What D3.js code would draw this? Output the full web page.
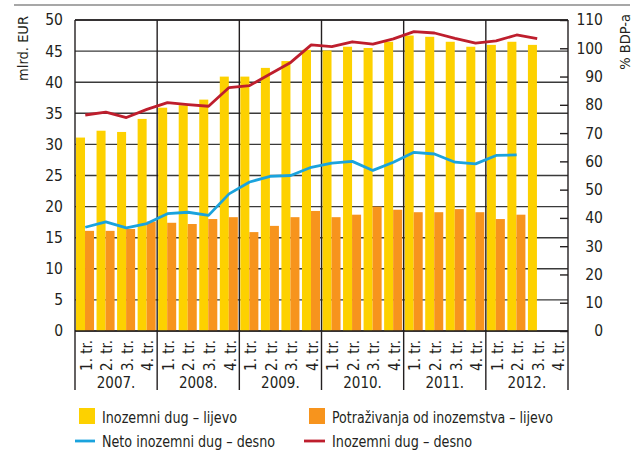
<!DOCTYPE html>
<html><head><meta charset="utf-8">
<script src="https://cdn.jsdelivr.net/npm/d3@7"></script>
<style>
html,body{margin:0;padding:0;background:#fff;}
svg{display:block;}
text{font-family:"DejaVu Sans Condensed","DejaVu Sans",sans-serif;fill:#231f20;}
</style></head>
<body>
<script>
const years = ['2007.','2008.','2009.','2010.','2011.','2012.'];
const quarters = ['1. tr.','2. tr.','3. tr.','4. tr.'];
const leftTicks = [0,5,10,15,20,25,30,35,40,45,50];
const rightTicks = [0,10,20,30,40,50,60,70,80,90,100,110];
// mlrd. EUR (left axis)
const inozemniDug = [31.1,32.2,32.0,34.1, 35.9,36.3,37.2,40.9, 40.9,42.3,43.4,45.2, 45.1,45.7,45.5,46.5, 47.5,47.3,46.5,45.7, 46.0,46.5,46.0,null];
const potrazivanja = [16.1,16.1,16.4,17.6, 17.4,17.2,18.0,18.3, 15.9,16.9,18.3,19.3, 18.3,18.7,20.0,19.5, 19.1,19.1,19.6,19.1, 18.0,18.7,null,null];
// % BDP-a (right axis)
const netoDugBDP = [36.7,38.6,36.5,38.0, 41.5,42.0,40.9,48.5, 52.7,54.7,55.0,57.9, 59.4,60.0,56.8,59.7, 63.2,62.6,59.7,59.1, 62.1,62.3,null,null];
const inozemniDugBDP = [76.4,77.4,75.5,78.4, 80.8,80.1,79.5,86.1, 86.8,90.9,95.0,101.2, 100.6,102.3,101.5,103.3, 105.9,105.4,103.5,101.8, 102.6,104.7,103.4,null];

const W=638,H=450;
const L=75,R=568,T=20,B=331;
const colYellow='#fdd100', colOrange='#f7941d', colBlue='#1aa3dd', colRed='#be1e2d';
const FF='"DejaVu Sans Condensed","DejaVu Sans",sans-serif';

const slots=[]; years.forEach(y=>quarters.forEach(q=>slots.push(y+'|'+q)));
const rows = slots.map((k,i)=>({key:k,y:k.split('|')[0],q:k.split('|')[1],dug:inozemniDug[i],pot:potrazivanja[i],neto:netoDugBDP[i],dugB:inozemniDugBDP[i]}));

const svg=d3.select('body').append('svg').attr('width',W).attr('height',H);
const x=d3.scaleBand().domain(slots).range([L,R]).padding(0);
const xYear=d3.scaleBand().domain(years).range([L,R]).padding(0);
const sub=d3.scaleBand().domain(['dug','pot']).range([1,x.bandwidth()-1.5]).padding(0);
const yL=d3.scaleLinear().domain([0,50]).range([B,T]);
const yR=d3.scaleLinear().domain([0,110]).range([B,T]);

// top rule
svg.append('line').attr('x1',14).attr('x2',630).attr('y1',5).attr('y2',5).attr('stroke','#8a8a8a').attr('stroke-width',1.5);

// gridlines
svg.append('g').selectAll('line').data(leftTicks).join('line')
  .attr('x1',L).attr('x2',R).attr('y1',d=>yL(d)).attr('y2',d=>yL(d))
  .attr('stroke','#3a3a3a').attr('stroke-width',1.4);

// bars
const bars=svg.append('g');
bars.selectAll('rect.d').data(rows.filter(r=>r.dug!=null)).join('rect')
  .attr('x',r=>x(r.key)+sub('dug')).attr('width',sub.bandwidth())
  .attr('y',r=>yL(r.dug)).attr('height',r=>B-yL(r.dug)).attr('fill',colYellow);
bars.selectAll('rect.p').data(rows.filter(r=>r.pot!=null)).join('rect')
  .attr('x',r=>x(r.key)+sub('pot')).attr('width',sub.bandwidth())
  .attr('y',r=>yL(r.pot)).attr('height',r=>B-yL(r.pot)).attr('fill',colOrange);

// year separators (extend below plot)
svg.append('g').selectAll('line').data(years.slice(1)).join('line')
  .attr('x1',d=>xYear(d)).attr('x2',d=>xYear(d)).attr('y1',T).attr('y2',390)
  .attr('stroke','#231f20').attr('stroke-width',1.4);
// frame
svg.append('line').attr('x1',L).attr('x2',R).attr('y1',T).attr('y2',T).attr('stroke','#231f20').attr('stroke-width',1.4);
svg.append('line').attr('x1',L).attr('x2',R).attr('y1',B).attr('y2',B).attr('stroke','#231f20').attr('stroke-width',1.6);
svg.append('line').attr('x1',L).attr('x2',L).attr('y1',T).attr('y2',390).attr('stroke','#231f20').attr('stroke-width',1.4);
svg.append('line').attr('x1',R).attr('x2',R).attr('y1',T).attr('y2',390).attr('stroke','#231f20').attr('stroke-width',1.4);

// lines
const cx=k=>x(k)+x.bandwidth()/2;
const lineN=d3.line().defined(r=>r.neto!=null).x(r=>cx(r.key)).y(r=>yR(r.neto));
const lineD=d3.line().defined(r=>r.dugB!=null).x(r=>cx(r.key)).y(r=>yR(r.dugB));
svg.append('path').datum(rows).attr('d',lineN).attr('fill','none').attr('stroke',colBlue).attr('stroke-width',2.8).attr('stroke-linejoin','round');
svg.append('path').datum(rows).attr('d',lineD).attr('fill','none').attr('stroke',colRed).attr('stroke-width',2.8).attr('stroke-linejoin','round');

// left axis labels
const axL=d3.axisLeft(yL).tickValues(leftTicks).tickSize(0).tickPadding(12);
const gL=svg.append('g').attr('transform',`translate(${L},0)`).call(axL);
gL.select('.domain').remove();
gL.selectAll('text').attr('font-size',15.5).style('font-family',FF).attr('fill','#231f20');

// right axis: inward ticks, labels right-aligned
const axR=d3.axisLeft(yR).tickValues(rightTicks).tickSize(8).tickPadding(-35);
const gR=svg.append('g').attr('transform',`translate(${R},0)`).call(axR);
gR.select('.domain').remove();
gR.selectAll('line').attr('stroke','#231f20').attr('stroke-width',1.4);
gR.selectAll('text').attr('font-size',15.5).attr('text-anchor','end').attr('x',35).style('font-family',FF).attr('fill','#231f20');

// axis titles
svg.append('text').attr('transform','translate(28,16) rotate(-90)').attr('text-anchor','end').attr('font-size',14.5).text('mlrd. EUR');
svg.append('text').attr('transform','translate(630,14) rotate(-90)').attr('text-anchor','end').attr('font-size',14.5).text('% BDP-a');

// quarter labels
svg.append('g').selectAll('text').data(rows).join('text')
  .attr('transform',r=>`translate(${cx(r.key)+1.5},340) rotate(-90)`)
  .attr('text-anchor','end').attr('dominant-baseline','central').attr('font-size',15).text(r=>r.q);
// year labels
svg.append('g').selectAll('text').data(years).join('text')
  .attr('x',d=>xYear(d)+xYear.bandwidth()/2).attr('y',388).attr('text-anchor','middle').attr('font-size',15).text(d=>d);

// legend
const leg=svg.append('g');
const lt=(xx,yy,len,s)=>leg.append('text').attr('x',xx).attr('y',yy).attr('font-size',16.5).attr('textLength',len).attr('lengthAdjust','spacingAndGlyphs').text(s);
leg.append('rect').attr('x',79).attr('y',408).attr('width',16).attr('height',16).attr('fill',colYellow);
lt(102,423,135,'Inozemni dug – lijevo');
leg.append('rect').attr('x',309).attr('y',408).attr('width',16).attr('height',16).attr('fill',colOrange);
lt(332,423,221,'Potraživanja od inozemstva – lijevo');
leg.append('line').attr('x1',75).attr('x2',95).attr('y1',441).attr('y2',441).attr('stroke',colBlue).attr('stroke-width',2.8);
lt(102,447,173,'Neto inozemni dug – desno');
leg.append('line').attr('x1',304).attr('x2',325).attr('y1',441).attr('y2',441).attr('stroke',colRed).attr('stroke-width',2.8);
lt(332,447,140,'Inozemni dug – desno');
</script>
</body></html>
